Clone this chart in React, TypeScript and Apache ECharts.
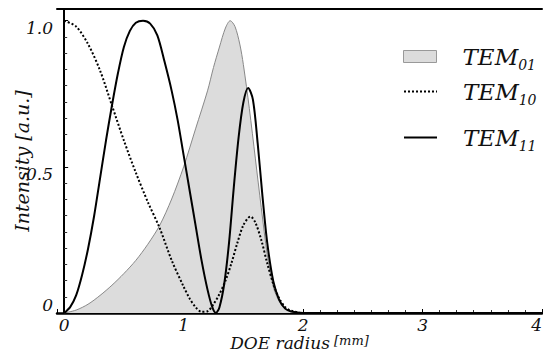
import React, { useEffect, useRef } from "react";
import * as echarts from "echarts";

// [radius (mm), intensity (a.u.)]
const tem01: number[][] = [
  [0, 0], [0.1, 0.01], [0.2, 0.03], [0.3, 0.06], [0.4, 0.095], [0.5, 0.135],
  [0.6, 0.18], [0.7, 0.235], [0.8, 0.3], [0.9, 0.39], [1.0, 0.5], [1.1, 0.63],
  [1.2, 0.76], [1.25, 0.84], [1.3, 0.91], [1.35, 0.975], [1.39, 1.0], [1.43, 0.98],
  [1.47, 0.92], [1.5, 0.85], [1.55, 0.7], [1.6, 0.53], [1.65, 0.36], [1.7, 0.2],
  [1.75, 0.09], [1.8, 0.04], [1.85, 0.016], [1.9, 0.006], [2.0, 0], [4, 0],
];

const tem10: number[][] = [
  [0, 1.0], [0.1, 0.98], [0.2, 0.92], [0.3, 0.83], [0.4, 0.71], [0.5, 0.59],
  [0.6, 0.48], [0.7, 0.38], [0.8, 0.29], [0.9, 0.18], [1.0, 0.09], [1.05, 0.05],
  [1.1, 0.02], [1.15, 0.004], [1.2, 0.006], [1.25, 0.03], [1.3, 0.065], [1.35, 0.11],
  [1.4, 0.17], [1.45, 0.24], [1.5, 0.3], [1.56, 0.33], [1.6, 0.31], [1.65, 0.25],
  [1.7, 0.17], [1.75, 0.1], [1.8, 0.05], [1.85, 0.02], [1.9, 0.008], [2.0, 0], [4, 0],
];

const tem11: number[][] = [
  [0, 0], [0.05, 0.02], [0.1, 0.06], [0.15, 0.13], [0.2, 0.22], [0.25, 0.33],
  [0.3, 0.46], [0.35, 0.59], [0.4, 0.71], [0.45, 0.82], [0.5, 0.91], [0.55, 0.965],
  [0.6, 0.993], [0.66, 1.0], [0.72, 0.99], [0.78, 0.95], [0.84, 0.86], [0.9, 0.76],
  [0.95, 0.66], [1.0, 0.54], [1.05, 0.42], [1.1, 0.3], [1.15, 0.18], [1.2, 0.08],
  [1.24, 0.02], [1.27, 0], [1.3, 0.02], [1.34, 0.1], [1.38, 0.24], [1.42, 0.43],
  [1.46, 0.6], [1.5, 0.72], [1.54, 0.77], [1.58, 0.73], [1.62, 0.58], [1.66, 0.4],
  [1.7, 0.24], [1.75, 0.11], [1.8, 0.045], [1.85, 0.015], [1.9, 0.005], [2.0, 0], [4, 0],
];

const seriesNames = ["TEM01", "TEM10", "TEM11"];
const xTickLabels = [0, 1, 2, 3, 4];
const yTickLabels: [number, string][] = [[0, "0"], [0.5, "0.5"], [1, "1.0"]];

const SERIF = "DejaVu Serif";

export default function App() {
  const ref = useRef<HTMLDivElement>(null);
  useEffect(() => {
    const chart = echarts.init(ref.current!, null, { renderer: "svg" });
    const legendRich = {
      g: { width: 21 },
      m: { fontFamily: SERIF, fontStyle: "italic", fontSize: 23, color: "#111", lineHeight: 30 },
      s: { fontFamily: SERIF, fontStyle: "italic", fontSize: 14, color: "#111", lineHeight: 30, verticalAlign: "bottom" },
    };
    const legendBase = {
      orient: "vertical",
      left: 398,
      itemWidth: 33,
      itemHeight: 12,
      formatter: (n: string) => `{g|}{m|TEM}{s|${n.slice(3)}}`,
      textStyle: { fontFamily: SERIF, rich: legendRich },
      selectedMode: false,
    };
    const hiddenSymbol = { color: "rgba(0,0,0,0)", borderWidth: 0, opacity: 0 };
    const option: any = {
      animation: false,
      backgroundColor: "#fff",
      textStyle: { fontFamily: SERIF },
      grid: { left: 57, right: 1, top: 9, bottom: 41, containLabel: false, outerBoundsMode: "none" },
      legend: [
        { ...legendBase, top: 40, data: [{ name: seriesNames[0], icon: "rect", itemStyle: { color: "#dcdcdc", borderColor: "#999", borderWidth: 1 } }] },
        { ...legendBase, top: 75, data: [{ name: seriesNames[1], itemStyle: hiddenSymbol }] },
        { ...legendBase, top: 121, data: [{ name: seriesNames[2], itemStyle: hiddenSymbol }] },
      ],
      xAxis: [
        {
          type: "value",
          min: -0.06,
          max: 4,
          position: "bottom",
          axisLine: { show: true, lineStyle: { color: "#000", width: 2.5 } },
          axisTick: { show: true, inside: true, length: 4, lineStyle: { color: "#000" } },
          minorTick: { show: true, splitNumber: 7, length: 3, lineStyle: { color: "#333" } },
          splitLine: { show: false },
          axisLabel: {
            margin: 3,
            formatter: (v: number) => (xTickLabels.indexOf(v) >= 0 ? String(v) : ""),
            fontFamily: SERIF,
            fontStyle: "italic",
            fontSize: 17,
            color: "#111",
            alignMaxLabel: "right",
          },
          name: "{a|DOE radius}{b| [mm]}",
          nameLocation: "middle",
          nameGap: 21,
          nameMoveOverlap: false,
          nameTextStyle: {
            fontFamily: SERIF,
            rich: {
              a: { fontFamily: SERIF, fontStyle: "italic", fontSize: 17, color: "#111" },
              b: { fontFamily: SERIF, fontStyle: "italic", fontSize: 13, color: "#111", padding: [0, 0, 5, 0] },
            },
          },
        },
        {
          type: "value",
          min: -0.06,
          max: 4,
          position: "top",
          axisLine: { show: true, lineStyle: { color: "#000", width: 2 } },
          axisTick: { show: false },
          axisLabel: { show: false },
          splitLine: { show: false },
        },
      ],
      yAxis: {
        type: "value",
        min: 0,
        max: 1.04,
        interval: 0.5,
        axisLine: { show: true, lineStyle: { color: "#000", width: 2 } },
        axisTick: { show: true, inside: true, length: 4, lineStyle: { color: "#000" } },
        minorTick: { show: true, splitNumber: 9, length: 3, lineStyle: { color: "#333" } },
        splitLine: { show: false },
        axisLabel: {
          margin: 4,
          fontFamily: SERIF,
          formatter: (v: number) => {
            const t = yTickLabels.find((p) => Math.abs(p[0] - v) < 1e-9);
            if (!t) return "";
            return v === 0 ? `{u|${t[1]}}` : `{d|${t[1]}}`;
          },
          rich: {
            u: { fontFamily: SERIF, fontStyle: "italic", fontSize: 17, color: "#111", padding: [0, 0, 16, 0] },
            d: { fontFamily: SERIF, fontStyle: "italic", fontSize: 17, color: "#111", padding: [14, 0, 0, 0] },
          },
        },
        name: "Intensity [a.u.]",
        nameLocation: "middle",
        nameRotate: 90,
        nameGap: 26,
        nameMoveOverlap: false,
        nameTextStyle: { fontFamily: SERIF, fontStyle: "italic", fontSize: 19, color: "#111" },
      },
      series: [
        {
          name: seriesNames[0],
          type: "line",
          data: tem01,
          smooth: 0.3,
          showSymbol: false,
          symbol: "none",
          lineStyle: { color: "#888", width: 1 },
          itemStyle: { color: "#dcdcdc" },
          areaStyle: { color: "#dcdcdc", opacity: 1 },
          z: 1,
        },
        {
          name: seriesNames[1],
          type: "line",
          data: tem10,
          smooth: 0.3,
          showSymbol: false,
          symbol: "none",
          lineStyle: { color: "#000", width: 2, type: [2, 2] },
          itemStyle: { color: "#000" },
          z: 2,
        },
        {
          name: seriesNames[2],
          type: "line",
          data: tem11,
          smooth: 0.3,
          showSymbol: false,
          symbol: "none",
          lineStyle: { color: "#000", width: 2 },
          itemStyle: { color: "#000" },
          z: 3,
        },
      ],
    };
    chart.setOption(option);
    return () => chart.dispose();
  }, []);
  return <div ref={ref} style={{ position: "fixed", left: 0, top: 0, width: 543, height: 354 }} />;
}
